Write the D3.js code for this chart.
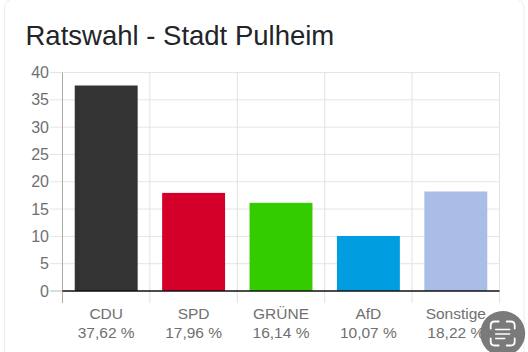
<!DOCTYPE html>
<html><head><meta charset="utf-8">
<script src="https://cdn.jsdelivr.net/npm/d3@7"></script>
<style>html,body{margin:0;padding:0;background:#fff;width:528px;height:352px;overflow:hidden}svg{display:block}text{font-family:"Liberation Sans",sans-serif}</style>
</head><body><svg id="c" width="528" height="352"></svg>
<script>
const titleText = "Ratswahl - Stadt Pulheim";
const categories = ["CDU","SPD","GRÜNE","AfD","Sonstige"];
const values = [37.62,17.96,16.14,10.07,18.22];
const valueLabels = ["37,62 %","17,96 %","16,14 %","10,07 %","18,22 %"];
const colors = ["#333333","#d4002a","#33cc00","#009ee0","#aabde6"];
const yTicks = [0,5,10,15,20,25,30,35,40];

const svg = d3.select("#c");
svg.append("rect").attr("x",4.5).attr("y",-1).attr("width",519.5).attr("height",370).attr("rx",9)
  .attr("fill","#fff").attr("stroke","#ececec");
svg.append("text").attr("x",25.5).attr("y",45).attr("font-size",27.5).attr("fill","#212529").text(titleText);

const y = d3.scaleLinear().domain([0,40]).range([291,72.5]);
const x = d3.scaleBand().domain(categories).range([62.5,499.5]).paddingInner(0.28).paddingOuter(0.14);
const step = x.step();
const edges = d3.range(categories.length+1).map(i=>62.5+i*step);

const grid = svg.append("g");
grid.selectAll("line.h").data(yTicks.filter(d=>d>0)).join("line").attr("class","h")
  .attr("x1",50).attr("x2",499.5).attr("y1",d=>y(d)).attr("y2",d=>y(d)).attr("stroke","#e4e4e4");
grid.append("line").attr("x1",50).attr("x2",62.5).attr("y1",y(0)).attr("y2",y(0)).attr("stroke","#bbb");
grid.selectAll("line.v").data(edges).join("line").attr("class","v")
  .attr("x1",d=>d).attr("x2",d=>d).attr("y1",72.5).attr("y2",303)
  .attr("stroke",(d,i)=>i===0?"#aaa":"#e2e2e2");

svg.append("g").selectAll("rect").data(values).join("rect")
  .attr("x",(d,i)=>x(categories[i])).attr("width",x.bandwidth())
  .attr("y",d=>y(d)).attr("height",d=>y(0)-y(d)).attr("fill",(d,i)=>colors[i]);

svg.append("line").attr("x1",62.5).attr("x2",499.5).attr("y1",291).attr("y2",291).attr("stroke","#111").attr("stroke-width",1.5);

svg.append("g").selectAll("text").data(yTicks).join("text")
  .attr("x",49).attr("y",d=>y(d)+5.5).attr("text-anchor","end").attr("font-size",16).attr("fill","#707070").text(d=>d);

const labs = svg.append("g").attr("font-size",15.5).attr("fill","#707070").attr("text-anchor","middle");
labs.selectAll("text.c").data(categories).join("text").attr("class","c")
  .attr("x",d=>x(d)+x.bandwidth()/2).attr("y",318.5).text(d=>d);
labs.selectAll("text.v").data(valueLabels).join("text").attr("class","v")
  .attr("x",(d,i)=>x(categories[i])+x.bandwidth()/2).attr("y",337.5).text(d=>d);

// screenshot overlay button
const b = svg.append("g").attr("transform","translate(502.7,333.5)");
b.append("circle").attr("r",22.5).attr("fill","#7a7a7a");
b.append("path").attr("d","M-12,-5V-8Q-12,-12 -8,-12H-4M4,-12H8Q12,-12 12,-8V-5M12,5V8Q12,12 8,12H4M-4,12H-8Q-12,12 -12,8V5")
  .attr("fill","none").attr("stroke","#fff").attr("stroke-width",1.8).attr("stroke-linecap","round");
b.append("path").attr("d","M-7,-4H7M-7,0.5H7M-7,5H2").attr("fill","none").attr("stroke","#fff").attr("stroke-width",1.5).attr("stroke-linecap","round");
</script></body></html>
